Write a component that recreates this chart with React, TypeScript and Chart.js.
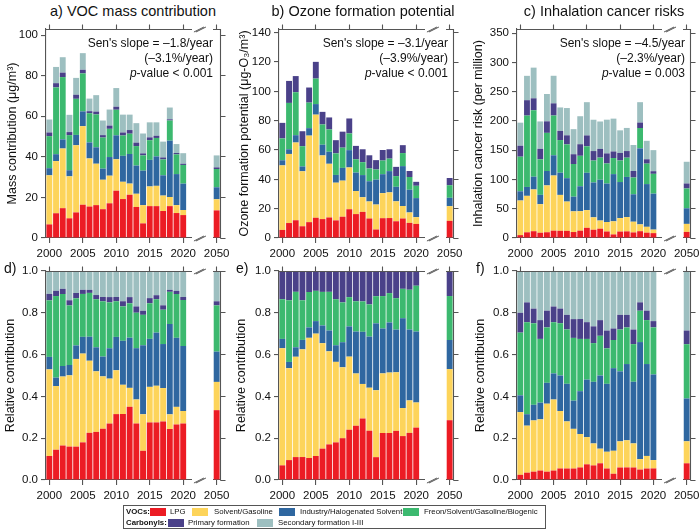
import React, { useEffect, useRef } from 'react';
import { Chart, registerables } from 'chart.js';

Chart.register(...registerables);

const FONT = "'Liberation Sans', Arial, Helvetica, sans-serif";
Chart.defaults.font.family = FONT;

// ---------- data ----------
const YEARS = ['2000','2001','2002','2003','2004','2005','2006','2007','2008','2009','2010',
  '2011','2012','2013','2014','2015','2016','2017','2018','2019','2020','2050'];

const SOURCES = ['LPG', 'Solvent/Gasoline', 'Industry/Halogenated Solvent',
  'Freon/Solvent/Gasoline/Biogenic', 'Primary formation', 'Secondary formation I-III'];
const COLORS = ['#ec1c24', '#fdd45a', '#2f67a0', '#3cb96f', '#4a4189', '#9dbfc0'];

// a) VOC mass contribution (ug/m3)
const massLPG = [6.7,12.2,14.7,9.7,12.6,16.4,15.5,16.2,14.2,17.1,23.3,19.2,21.3,15.3,7.2,15.7,15.7,13.3,15.7,12.3,11.3,13.6];
const massSolvent = [24.2,25.7,29.4,20.7,33.1,38.7,23.7,20.4,14.5,13.6,15.5,8.5,5.5,6.5,9.0,9.7,10.0,7.6,4.5,3.9,2.5,5.5];
const massIndustry = [3.5,3.4,4.5,3.0,5.1,7.3,7.9,8.1,5.5,9.2,11.8,12.8,14.6,13.9,17.0,13.1,14.5,10.0,27.8,15.3,13.0,5.9];
const massFreon = [15.8,32.9,30.7,17.3,17.8,18.7,14.4,16.2,15.3,13.9,12.6,10.0,10.0,9.6,7.5,9.7,9.1,7.8,9.9,9.7,9.2,9.0];
const massPrimary = [1.8,2.1,2.2,1.5,2.0,1.8,1.0,1.4,1.2,1.6,1.5,1.5,1.8,1.7,1.0,1.4,1.1,1.0,0.6,0.7,0.6,0.8];
const massSecondary = [6.4,8.0,7.6,8.5,8.3,8.2,6.2,8.1,7.2,7.9,9.2,8.8,7.6,9.6,9.8,7.4,6.6,7.8,5.8,4.4,5.2,5.9];

// b) Ozone formation potential (ug-O3/m3)
const ofpLPG = [5.5,10.2,12.1,8.0,10.8,13.8,12.9,14.0,12.0,14.5,19.6,16.3,17.8,13.3,5.8,13.5,13.6,11.4,13.3,10.3,9.6,11.7];
const ofpSolvent = [44.0,47.1,53.0,37.5,59.0,70.3,43.4,36.6,25.7,24.6,28.5,15.7,10.0,11.6,17.0,17.1,17.5,13.6,8.5,7.1,4.6,10.0];
const ofpIndustry = [3.5,3.2,5.0,3.3,5.1,7.2,7.3,8.2,5.3,8.7,11.8,12.6,15.1,13.8,17.0,12.9,14.5,9.9,27.2,15.5,13.0,5.7];
const ofpFreon = [14.9,31.6,29.3,13.8,17.4,17.4,13.8,15.2,14.7,13.8,11.4,9.1,8.8,8.7,6.9,9.3,8.5,7.3,8.9,8.7,8.4,8.6];
const ofpPrimary = [10.6,15.0,11.0,10.2,10.3,11.4,8.6,8.2,9.0,10.9,10.2,9.1,8.8,9.0,6.4,7.2,6.4,6.3,5.4,4.1,2.7,4.9];
const ofpSecondary = [0,0,0,0,0,0,0,0,0,0,0,0,0,0,0,0,0,0,0,0,0,0];

// c) Inhalation cancer risk (per million)
const riskLPG = [4.9,9.7,11.6,9.0,9.8,12.5,12.3,12.2,10.2,12.5,17.4,14.1,15.9,11.1,6.1,11.0,11.3,9.5,11.6,9.1,8.3,10.4];
const riskSolvent = [59.1,62.3,71.3,48.8,80.0,94.2,61.3,50.0,35.3,33.3,30.2,21.2,13.9,16.2,22.4,23.0,24.4,18.3,11.6,10.0,6.0,13.7];
const riskIndustry = [15.8,15.2,21.8,15.9,24.6,34.6,37.9,40.0,25.1,42.6,63.8,59.6,69.7,65.7,80.6,61.6,68.6,46.9,129.9,73.0,61.5,26.7];
const riskFreon = [59.1,121.9,113.5,60.7,65.2,67.9,55.8,57.7,55.8,52.0,45.2,37.4,37.8,34.3,27.5,36.8,32.9,28.6,34.8,34.9,33.8,33.8];
const riskPrimary = [18.7,26.3,20.4,17.9,19.7,20.8,15.6,15.5,16.7,19.8,18.6,16.2,14.9,17.2,11.2,12.9,11.3,11.1,9.3,7.5,4.5,8.5];
const riskSecondary = [39.4,41.6,52.4,46.8,46.7,47.1,40.1,46.6,42.8,47.8,56.8,53.5,46.8,57.6,56.1,38.6,39.5,44.5,34.8,31.5,36.0,37.1];

const MASS = [massLPG, massSolvent, massIndustry, massFreon, massPrimary, massSecondary];
const OFP = [ofpLPG, ofpSolvent, ofpIndustry, ofpFreon, ofpPrimary, ofpSecondary];
const RISK = [riskLPG, riskSolvent, riskIndustry, riskFreon, riskPrimary, riskSecondary];

// x slots: 2000..2020, 4 empty slots (axis break), 2050
const X_LABELS = [...YEARS.slice(0, 21), '', '', '', '', YEARS[21]];
const SHOWN = [0, 5, 10, 15, 20, 25];
const toSlots = (v: number[]) => [...v.slice(0, 21), null, null, null, null, v[21]];

const AXIS = '#555555';
const LINE_W = 1.1;
const TICK_LEN = 5;

type Cfg = {
  L: number; T: number; R: number; B: number; yW: number; rightW: number;
  yMax: number; step: number; yTitle: string; pad: number; relative: boolean;
  series: number[][];
};

const TOP_T = 29, TOP_B = 238, BOT_T = 271, BOT_B = 480, TOP_H = 8, BOTTOM_H = 26;

const PANELS: Cfg[] = [
  { L: 46, T: TOP_T, R: 220, B: TOP_B, yW: 46, rightW: 14, yMax: 103, step: 20, yTitle: 'Mass contribution (μg/m³)', pad: 4.8, relative: false, series: MASS },
  { L: 279, T: TOP_T, R: 453, B: TOP_B, yW: 46, rightW: 14, yMax: 142.5, step: 20, yTitle: 'Ozone formation potential (μg-O₃/m³)', pad: 4.5, relative: false, series: OFP },
  { L: 517, T: TOP_T, R: 690, B: TOP_B, yW: 50, rightW: 10, yMax: 357, step: 50, yTitle: 'Inhalation cancer risk (per million)', pad: 3.8, relative: false, series: RISK },
  { L: 46, T: BOT_T, R: 220, B: BOT_B, yW: 46, rightW: 14, yMax: 1, step: 0.2, yTitle: 'Relative contribution', pad: 2.8, relative: true, series: MASS },
  { L: 279, T: BOT_T, R: 453, B: BOT_B, yW: 46, rightW: 14, yMax: 1, step: 0.2, yTitle: 'Relative contribution', pad: 1.5, relative: true, series: OFP },
  { L: 517, T: BOT_T, R: 690, B: BOT_B, yW: 50, rightW: 10, yMax: 1, step: 0.2, yTitle: 'Relative contribution', pad: 5.8, relative: true, series: RISK },
];

const fitTo = (w?: number, h?: number) => (s: any) => {
  if (w !== undefined) s.width = w;
  if (h !== undefined) s.height = h;
  s.paddingLeft = 0; s.paddingRight = 0; s.paddingTop = 0; s.paddingBottom = 0;
};
const keepTicks = (s: any) => { s.ticks = s.ticks.filter((t: any) => SHOWN.includes(t.value)); };
const crisp = (v: number) => Math.round(v - 0.5) + 0.5;

// top/right frame with outward ticks (mirroring the bottom/left axes), plus the axis break marks
const framePlugin = {
  id: 'frameAndBreak',
  afterDraw(chart: any) {
    const x = chart.scales.x;
    const y = chart.scales.y;
    const ca = chart.chartArea;
    const ctx = chart.ctx;
    const top = crisp(ca.top);
    const right = crisp(ca.right);
    const bottom = crisp(ca.bottom);
    ctx.save();
    ctx.setLineDash([]);
    ctx.strokeStyle = AXIS;
    ctx.lineWidth = LINE_W;
    ctx.beginPath();
    ctx.moveTo(ca.left, top);
    ctx.lineTo(right, top);
    ctx.lineTo(right, bottom);
    ctx.stroke();
    ctx.beginPath();
    x.ticks.forEach((t: any) => {
      const px = crisp(x.getPixelForValue(t.value));
      ctx.moveTo(px, top); ctx.lineTo(px, top - TICK_LEN);
    });
    y.ticks.forEach((t: any) => {
      const py = crisp(y.getPixelForValue(t.value));
      ctx.moveTo(right, py); ctx.lineTo(right + TICK_LEN, py);
    });
    ctx.stroke();

    const w = (x.getPixelForValue(25) - x.getPixelForValue(0)) / 25;
    const xc = x.getPixelForValue(22.5);
    const x1 = x.getPixelForValue(21) + 0.3 * w;
    const x2 = x.getPixelForValue(24) + 0.5 * w;
    [top, bottom].forEach((yy: number) => {
      ctx.clearRect(x1, yy - 2, x2 - x1, 4);
      ctx.lineWidth = 1;
      ctx.beginPath();
      ctx.moveTo(xc - 6, yy + 2.5); ctx.lineTo(xc + 4, yy - 2.5);
      ctx.moveTo(xc - 4, yy + 2.5); ctx.lineTo(xc + 6, yy - 2.5);
      ctx.stroke();
    });
    ctx.restore();
  },
};

function Panel({ cfg }: { cfg: Cfg }) {
  const ref = useRef<HTMLCanvasElement>(null);
  const left = cfg.L - cfg.yW;
  const top = cfg.T - TOP_H;
  const width = cfg.yW + (cfg.R - cfg.L) + cfg.rightW;
  const height = TOP_H + (cfg.B - cfg.T) + BOTTOM_H;

  useEffect(() => {
    let data = cfg.series;
    if (cfg.relative) {
      const totals = cfg.series[0].map((_, i) => cfg.series.reduce((s, a) => s + a[i], 0));
      data = cfg.series.map(a => a.map((v, i) => v / totals[i]));
    }
    const grid = { display: true, drawOnChartArea: false, drawTicks: true, tickLength: TICK_LEN, color: AXIS, lineWidth: LINE_W, offset: false };
    const border = { display: true, color: AXIS, width: LINE_W };
    const dec = cfg.relative;
    const chart = new Chart(ref.current as HTMLCanvasElement, {
      type: 'bar',
      data: {
        labels: X_LABELS,
        datasets: data.map((d, k) => ({
          label: SOURCES[k],
          data: toSlots(d),
          backgroundColor: COLORS[k],
          borderWidth: 0,
          barPercentage: 0.88,
          categoryPercentage: 1,
        })),
      },
      options: {
        animation: false,
        responsive: false,
        maintainAspectRatio: false,
        devicePixelRatio: 1,
        layout: { padding: { top: TOP_H, right: cfg.rightW, left: 0, bottom: 0 }, autoPadding: false },
        plugins: { legend: { display: false }, tooltip: { enabled: false }, title: { display: false } },
        scales: {
          x: {
            type: 'category', position: 'bottom', stacked: true, offset: true,
            grid, border,
            ticks: {
              autoSkip: false, maxRotation: 0, minRotation: 0, padding: 4, color: '#111',
              font: { size: 11.5 },
              callback: (v: any) => X_LABELS[v],
            },
            afterBuildTicks: keepTicks, afterFit: fitTo(undefined, BOTTOM_H),
          },
          y: {
            type: 'linear', position: 'left', stacked: true, min: 0, max: cfg.yMax,
            grid, border,
            ticks: {
              stepSize: cfg.step, includeBounds: false, padding: 3, color: '#111', font: { size: 11.5 },
              callback: (v: any) => (dec ? Number(v).toFixed(1) : String(Math.round(Number(v)))),
            },
            title: { display: true, text: cfg.yTitle, color: '#111', font: { size: 12.5 }, padding: { top: cfg.pad, bottom: 0 } },
            afterFit: fitTo(cfg.yW),
          },
        },
      } as any,
      plugins: [framePlugin],
    });
    return () => chart.destroy();
  }, []);

  return (
    <canvas ref={ref} width={width} height={height}
      style={{ position: 'absolute', left, top, width, height, display: 'block' }} />
  );
}

const TITLES = [
  { text: 'a) VOC mass contribution', cx: 133 },
  { text: 'b) Ozone formation potential', cx: 363 },
  { text: 'c) Inhalation cancer risks', cx: 604 },
];
const STATS = [
  { xr: 213, slope: "Sen's slope = \u20131.8/year", pct: '(\u20133.1%/year)', p: ' < 0.001' },
  { xr: 448, slope: "Sen's slope = \u20133.1/year", pct: '(\u20133.9%/year)', p: ' < 0.001' },
  { xr: 685, slope: "Sen's slope = \u20134.5/year", pct: '(\u20132.3%/year)', p: ' = 0.003' },
];
const LETTERS = [{ t: 'd)', x: 4 }, { t: 'e)', x: 236 }, { t: 'f)', x: 476 }];

function Swatch({ color, x }: { color: string; x: number }) {
  return <div style={{ position: 'absolute', left: x, top: -4, width: 16, height: 8, background: color }} />;
}

export default function App() {
  const txt = (x: number, s: string, bold = false) => (
    <span style={{ position: 'absolute', left: x, top: -5, lineHeight: '10px', whiteSpace: 'nowrap', fontWeight: bold ? 'bold' : 'normal' }}>{s}</span>
  );
  return (
    <div style={{ position: 'absolute', left: 0, top: 0, width: 700, height: 530, background: '#fff', fontFamily: FONT, color: '#111', overflow: 'hidden' }}>
      {PANELS.map((p, i) => <Panel key={i} cfg={p} />)}
      {TITLES.map((t, i) => (
        <div key={i} style={{ position: 'absolute', left: t.cx - 150, width: 300, top: 3, textAlign: 'center', fontSize: 14.5, lineHeight: '16px' }}>{t.text}</div>
      ))}
      {STATS.map((s, i) => (
        <div key={i} style={{ position: 'absolute', right: 700 - s.xr, top: 35.5, textAlign: 'right', fontSize: 12, lineHeight: '15px', whiteSpace: 'nowrap' }}>
          <div>{s.slope}</div>
          <div>{s.pct}</div>
          <div><i>p</i>-value{s.p}</div>
        </div>
      ))}
      {LETTERS.map((l, i) => (
        <div key={i} style={{ position: 'absolute', left: l.x, top: 260, fontSize: 14, lineHeight: '16px' }}>{l.t}</div>
      ))}
      <div style={{ position: 'absolute', left: 123, top: 505, width: 421, height: 22, border: '1px solid #555', fontSize: 7.8 }}>
        <div style={{ position: 'absolute', left: 0, top: 6, width: 421, height: 0 }}>
          {txt(2, 'VOCs:', true)}
          <Swatch color={COLORS[0]} x={26} />
          {txt(46, SOURCES[0])}
          <Swatch color={COLORS[1]} x={68} />
          {txt(90, SOURCES[1])}
          <Swatch color={COLORS[2]} x={155} />
          {txt(176, SOURCES[2])}
          <Swatch color={COLORS[3]} x={279} />
          {txt(300, SOURCES[3])}
        </div>
        <div style={{ position: 'absolute', left: 0, top: 17, width: 421, height: 0 }}>
          {txt(2, 'Carbonyls:', true)}
          <Swatch color={COLORS[4]} x={44} />
          {txt(64, SOURCES[4])}
          <Swatch color={COLORS[5]} x={133} />
          {txt(154, SOURCES[5])}
        </div>
      </div>
    </div>
  );
}
